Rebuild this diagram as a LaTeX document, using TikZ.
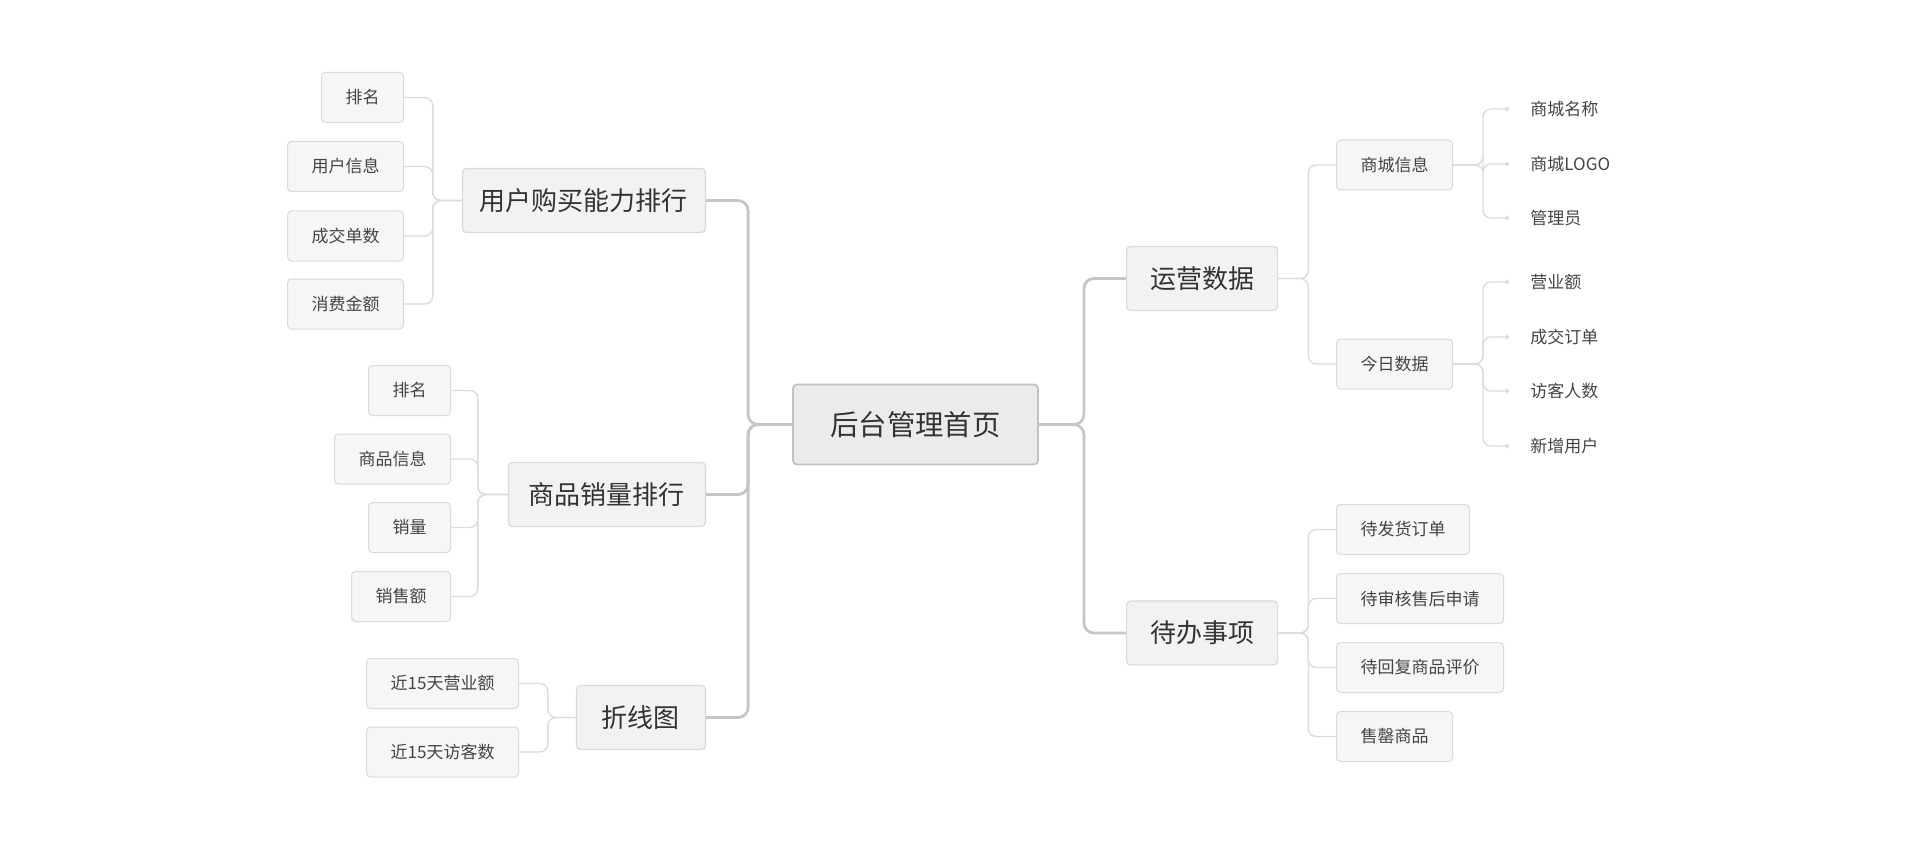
\documentclass[tikz,border=0pt]{standalone}
\usepackage{fontspec}
\setmainfont{Noto Sans CJK SC}
\usetikzlibrary{arrows.meta}

\definecolor{rootfill}{HTML}{EBEBEB}
\definecolor{rootline}{HTML}{C2C2C2}
\definecolor{topicfill}{HTML}{F2F2F2}
\definecolor{itemfill}{HTML}{F6F6F6}
\definecolor{boxline}{HTML}{DADADA}
\definecolor{trunkline}{HTML}{C6C6C6}
\definecolor{twigline}{HTML}{DCDCDC}
\definecolor{txtdark}{HTML}{333333}
\definecolor{txtmid}{HTML}{444444}

\begin{document}
\begin{tikzpicture}[x=0.5pt, y=-0.5pt,
  base/.style={draw, rounded corners=2pt, align=center, inner ysep=0pt},
  rootbox/.style={base, fill=rootfill, draw=rootline, line width=0.9pt,
    minimum width=122.5pt, minimum height=40pt, font=\fontsize{14.2}{16}\selectfont, text=txtdark},
  topic/.style={base, fill=topicfill, draw=boxline, line width=0.6pt,
    minimum height=32pt, font=\fontsize{13}{15}\selectfont, text=txtdark},
  item/.style={base, fill=itemfill, draw=boxline, line width=0.5pt, inner xsep=12pt,
    minimum height=25pt, font=\fontsize{8.5}{10}\selectfont, text=txtmid},
  note/.style={inner sep=0pt, anchor=west, font=\fontsize{8.5}{10}\selectfont, text=txtmid},
  trunk/.style={draw=trunkline, line width=1.4pt, rounded corners=5pt},
  twig/.style={draw=twigline, line width=0.7pt, rounded corners=4pt},
  pointer/.style={twig, -{Circle[length=2pt]}, shorten >=10.5pt}
]
  \useasboundingbox (0,0) rectangle (1920,850);

  % centre
  \node[rootbox] (root) at (915.5,424.5) {后台管理首页};

  % left topics
  \node[topic, anchor=east, minimum width=121.5pt] (buy) at (706,200.5) {用户购买能力排行};
  \node[topic, anchor=east, minimum width=98.5pt] (sales) at (706,494.5) {商品销量排行};
  \node[topic, anchor=east, minimum width=64.5pt] (chart) at (706,717.5) {折线图};

  % right topics
  \node[topic, anchor=west, minimum width=75.5pt] (ops) at (1126,278.5) {运营数据};
  \node[topic, anchor=west, minimum width=75.5pt] (todo) at (1126,633) {待办事项};

  % items of buy
  \node[item, anchor=east] (buy1) at (404,97.5) {排名};
  \node[item, anchor=east] (buy2) at (404,166.5) {用户信息};
  \node[item, anchor=east] (buy3) at (404,236) {成交单数};
  \node[item, anchor=east] (buy4) at (404,304) {消费金额};

  % items of sales
  \node[item, anchor=east] (sales1) at (451,390.5) {排名};
  \node[item, anchor=east] (sales2) at (451,459) {商品信息};
  \node[item, anchor=east] (sales3) at (451,527.5) {销量};
  \node[item, anchor=east] (sales4) at (451,596.5) {销售额};

  % items of chart
  \node[item, anchor=east] (chart1) at (519,683.5) {近15天营业额};
  \node[item, anchor=east] (chart2) at (519,752) {近15天访客数};

  % items of ops
  \node[item, anchor=west] (shop) at (1336,165) {商城信息};
  \node[item, anchor=west] (today) at (1336,364) {今日数据};

  % items of todo
  \node[item, anchor=west] (todo1) at (1336,529.5) {待发货订单};
  \node[item, anchor=west] (todo2) at (1336,598.5) {待审核售后申请};
  \node[item, anchor=west] (todo3) at (1336,667.5) {待回复商品评价};
  \node[item, anchor=west] (todo4) at (1336,736.5) {售罄商品};

  % notes
  \node[note] (shop1) at (1530,109) {商城名称};
  \node[note] (shop2) at (1530,164) {商城LOGO};
  \node[note] (shop3) at (1530,218) {管理员};
  \node[note] (today1) at (1530,282) {营业额};
  \node[note] (today2) at (1530,337) {成交订单};
  \node[note] (today3) at (1530,391) {访客人数};
  \node[note] (today4) at (1530,446) {新增用户};

  % trunk lines
  \draw[trunk] (root.west) -- ++(-44,0) |- (buy.east);
  \draw[trunk] (root.west) -- ++(-44,0) |- (sales.east);
  \draw[trunk] (root.west) -- ++(-44,0) |- (chart.east);
  \draw[trunk] (root.east) -- ++(45,0) |- (ops.west);
  \draw[trunk] (root.east) -- ++(45,0) |- (todo.west);

  % twigs, left
  \draw[twig] (buy.west) -- ++(-29,0) |- (buy1.east);
  \draw[twig] (buy.west) -- ++(-29,0) |- (buy2.east);
  \draw[twig] (buy.west) -- ++(-29,0) |- (buy3.east);
  \draw[twig] (buy.west) -- ++(-29,0) |- (buy4.east);
  \draw[twig] (sales.west) -- ++(-30,0) |- (sales1.east);
  \draw[twig] (sales.west) -- ++(-30,0) |- (sales2.east);
  \draw[twig] (sales.west) -- ++(-30,0) |- (sales3.east);
  \draw[twig] (sales.west) -- ++(-30,0) |- (sales4.east);
  \draw[twig] (chart.west) -- ++(-28,0) |- (chart1.east);
  \draw[twig] (chart.west) -- ++(-28,0) |- (chart2.east);

  % twigs, right
  \draw[twig] (ops.east) -- ++(30,0) |- (shop.west);
  \draw[twig] (ops.east) -- ++(30,0) |- (today.west);
  \draw[twig] (todo.east) -- ++(30,0) |- (todo1.west);
  \draw[twig] (todo.east) -- ++(30,0) |- (todo2.west);
  \draw[twig] (todo.east) -- ++(30,0) |- (todo3.west);
  \draw[twig] (todo.east) -- ++(30,0) |- (todo4.west);

  % pointers to notes
  \draw[pointer] (shop.east) -- ++(30,0) |- (shop1.west);
  \draw[pointer] (shop.east) -- ++(30,0) |- (shop2.west);
  \draw[pointer] (shop.east) -- ++(30,0) |- (shop3.west);
  \draw[pointer] (today.east) -- ++(30,0) |- (today1.west);
  \draw[pointer] (today.east) -- ++(30,0) |- (today2.west);
  \draw[pointer] (today.east) -- ++(30,0) |- (today3.west);
  \draw[pointer] (today.east) -- ++(30,0) |- (today4.west);
\end{tikzpicture}
\end{document}
